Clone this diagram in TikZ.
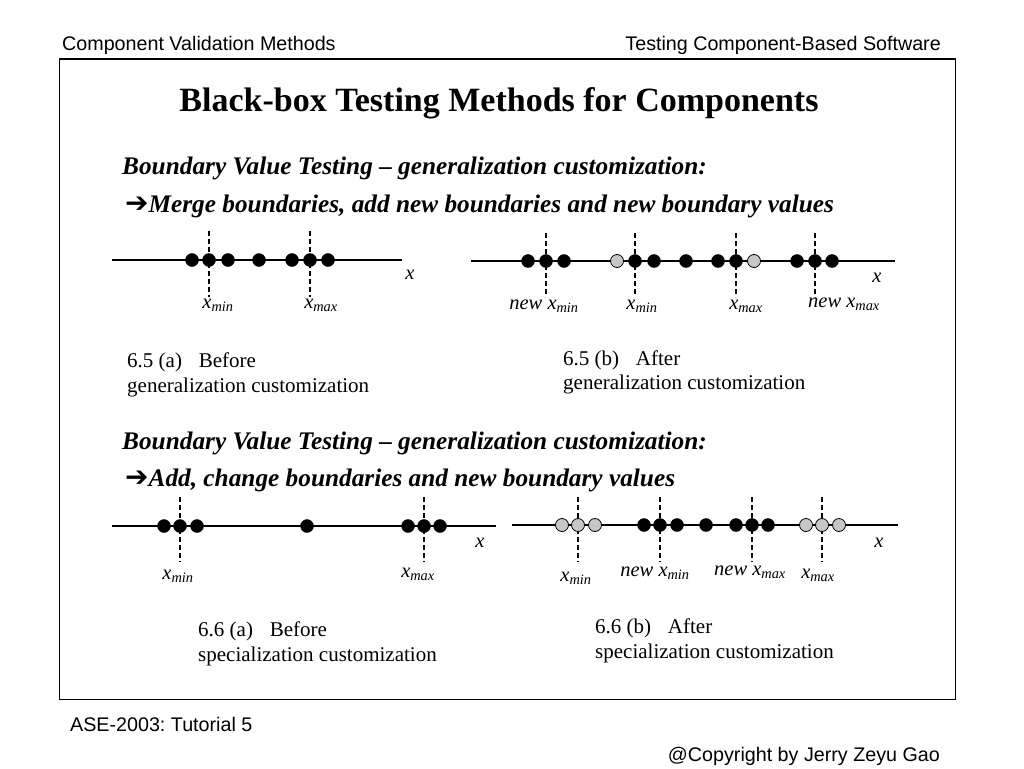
\documentclass[tikz,border=0pt]{standalone}
\usepackage{fontspec}
\setmainfont{Liberation Serif}
\newfontfamily\arialf{Liberation Sans}
\newfontfamily\dejavu{DejaVu Sans}
\frenchspacing
\begin{document}
\begin{tikzpicture}[x=1pt,y=-1pt,
  hdr/.style={font=\arialf\fontsize{19.7}{23}\selectfont, inner sep=0},
  ttl/.style={font=\bfseries\fontsize{34}{39}\selectfont, inner sep=0},
  sub/.style={font=\bfseries\itshape\fontsize{25.3}{29}\selectfont, inner sep=0, anchor=base west},
  captxt/.style={font=\fontsize{21}{25}\selectfont, inner sep=0, anchor=base west},
  lbl/.style={font=\itshape\fontsize{20.5}{24}\selectfont, inner sep=0},
  bdot/.style={circle, fill=black, draw=black, minimum size=13pt, inner sep=0},
  gdot/.style={circle, fill=black!22, draw=black, line width=0.8pt, minimum size=13pt, inner sep=0},
  axis/.style={line width=1.4pt},
  bnd/.style={line width=1.2pt, draw=black, dash pattern=on 5pt off 3pt}
]
\useasboundingbox (0,0) rectangle (1024,768);
\fill[white] (0,0) rectangle (1024,768);

% header / frame / footer
\node[hdr, anchor=base west] (h1) at (62,51) {Component Validation Methods};
\node[hdr, anchor=base east] (h2) at (941,51) {Testing Component-Based Software};
\draw[line width=1pt] (59,59) rectangle (955,699);
\node[hdr, anchor=base west] (f1) at (70,731) {ASE-2003: Tutorial 5};
\node[hdr, anchor=base east] (f2) at (940,761) {@Copyright by Jerry Zeyu Gao};

% title
\node[ttl, anchor=base] (title) at (499,111) {Black-box Testing Methods for Components};

% section 1
\node[sub] (s1) at (122,174) {Boundary Value Testing -- generalization customization:};
\node[sub] (s2) at (125,212) {{\dejavu\mdseries\upshape\fontsize{28}{30}\selectfont ➔}Merge boundaries, add new boundaries and new boundary values};

% ---- 6.5 (a)
\coordinate (a1L) at (112,260); \coordinate (a1R) at (402,260);
\draw[axis] (a1L) -- (a1R);
\foreach \n/\x in {mn/209,mx/310}{
  \coordinate (a1\n T) at (\x,231); \coordinate (a1\n B) at (\x,297);
  \draw[bnd] (a1\n T) -- (a1\n B);}
\foreach \n/\x in {1/192,2/209,3/228,4/259,5/292,6/310,7/328}
  \node[bdot] (a1d\n) at (\x,260) {};
\node[lbl] (a1x) at (410,275) {x};
\node[lbl] (a1mnl) at (218,305) {x\textsubscript{min}};
\node[lbl] (a1mxl) at (321,305) {x\textsubscript{max}};
\node[captxt] (c1a) at (127,367) {6.5 (a)\hspace{0.8em}Before};
\node[captxt] (c1b) at (127,392) {generalization customization};

% ---- 6.5 (b)
\coordinate (b1L) at (471,261); \coordinate (b1R) at (895,261);
\draw[axis] (b1L) -- (b1R);
\foreach \n/\x in {nmn/546,mn/635,mx/736,nmx/815}{
  \coordinate (b1\n T) at (\x,233); \coordinate (b1\n B) at (\x,297);
  \draw[bnd] (b1\n T) -- (b1\n B);}
\foreach \n/\x in {1/528,2/546,3/564,5/635,6/654,7/686,8/718,9/736,11/797,12/815,13/832}
  \node[bdot] (b1d\n) at (\x,261) {};
\foreach \n/\x in {4/617,10/754}
  \node[gdot] (b1d\n) at (\x,261) {};
\node[lbl] (b1x) at (877,278) {x};
\node[lbl] (b1nmnl) at (544,306) {new x\textsubscript{min}};
\node[lbl] (b1mnl) at (642,306) {x\textsubscript{min}};
\node[lbl] (b1mxl) at (746,306) {x\textsubscript{max}};
\node[lbl] (b1nmxl) at (844,304) {new x\textsubscript{max}};
\node[captxt] (c2a) at (563,365) {6.5 (b)\hspace{0.8em}After};
\node[captxt] (c2b) at (563,389) {generalization customization};

% section 2
\node[sub] (s3) at (122,449) {Boundary Value Testing -- generalization customization:};
\node[sub] (s4) at (125,486) {{\dejavu\mdseries\upshape\fontsize{28}{30}\selectfont ➔}Add, change boundaries and new boundary values};

% ---- 6.6 (a)
\coordinate (a2L) at (112,526); \coordinate (a2R) at (496,526);
\draw[axis] (a2L) -- (a2R);
\foreach \n/\x in {mn/180,mx/424}{
  \coordinate (a2\n T) at (\x,497); \coordinate (a2\n B) at (\x,562);
  \draw[bnd] (a2\n T) -- (a2\n B);}
\foreach \n/\x in {1/164,2/180,3/197,4/307,5/408,6/424,7/440}
  \node[bdot] (a2d\n) at (\x,526) {};
\node[lbl] (a2x) at (480,543) {x};
\node[lbl] (a2mnl) at (178,576) {x\textsubscript{min}};
\node[lbl] (a2mxl) at (418,574) {x\textsubscript{max}};
\node[captxt] (c3a) at (198,636) {6.6 (a)\hspace{0.8em}Before};
\node[captxt] (c3b) at (198,661) {specialization customization};

% ---- 6.6 (b)
\coordinate (b2L) at (512,525); \coordinate (b2R) at (898,525);
\draw[axis] (b2L) -- (b2R);
\foreach \n/\x in {mn/578,nmn/660,nmx/752,mx/822}{
  \coordinate (b2\n T) at (\x,497); \coordinate (b2\n B) at (\x,562);
  \draw[bnd] (b2\n T) -- (b2\n B);}
\foreach \n/\x in {4/644,5/660,6/677,7/706,8/736,9/752,10/768}
  \node[bdot] (b2d\n) at (\x,525) {};
\foreach \n/\x in {1/562,2/578,3/595,11/806,12/822,13/839}
  \node[gdot] (b2d\n) at (\x,525) {};
\node[lbl] (b2x) at (879,543) {x};
\node[lbl] (b2mnl) at (576,578) {x\textsubscript{min}};
\node[lbl] (b2nmnl) at (655,573) {new x\textsubscript{min}};
\node[lbl] (b2nmxl) at (750,572) {new x\textsubscript{max}};
\node[lbl] (b2mxl) at (818,575) {x\textsubscript{max}};
\node[captxt] (c4a) at (595,633) {6.6 (b)\hspace{0.8em}After};
\node[captxt] (c4b) at (595,658) {specialization customization};
\end{tikzpicture}
\end{document}
